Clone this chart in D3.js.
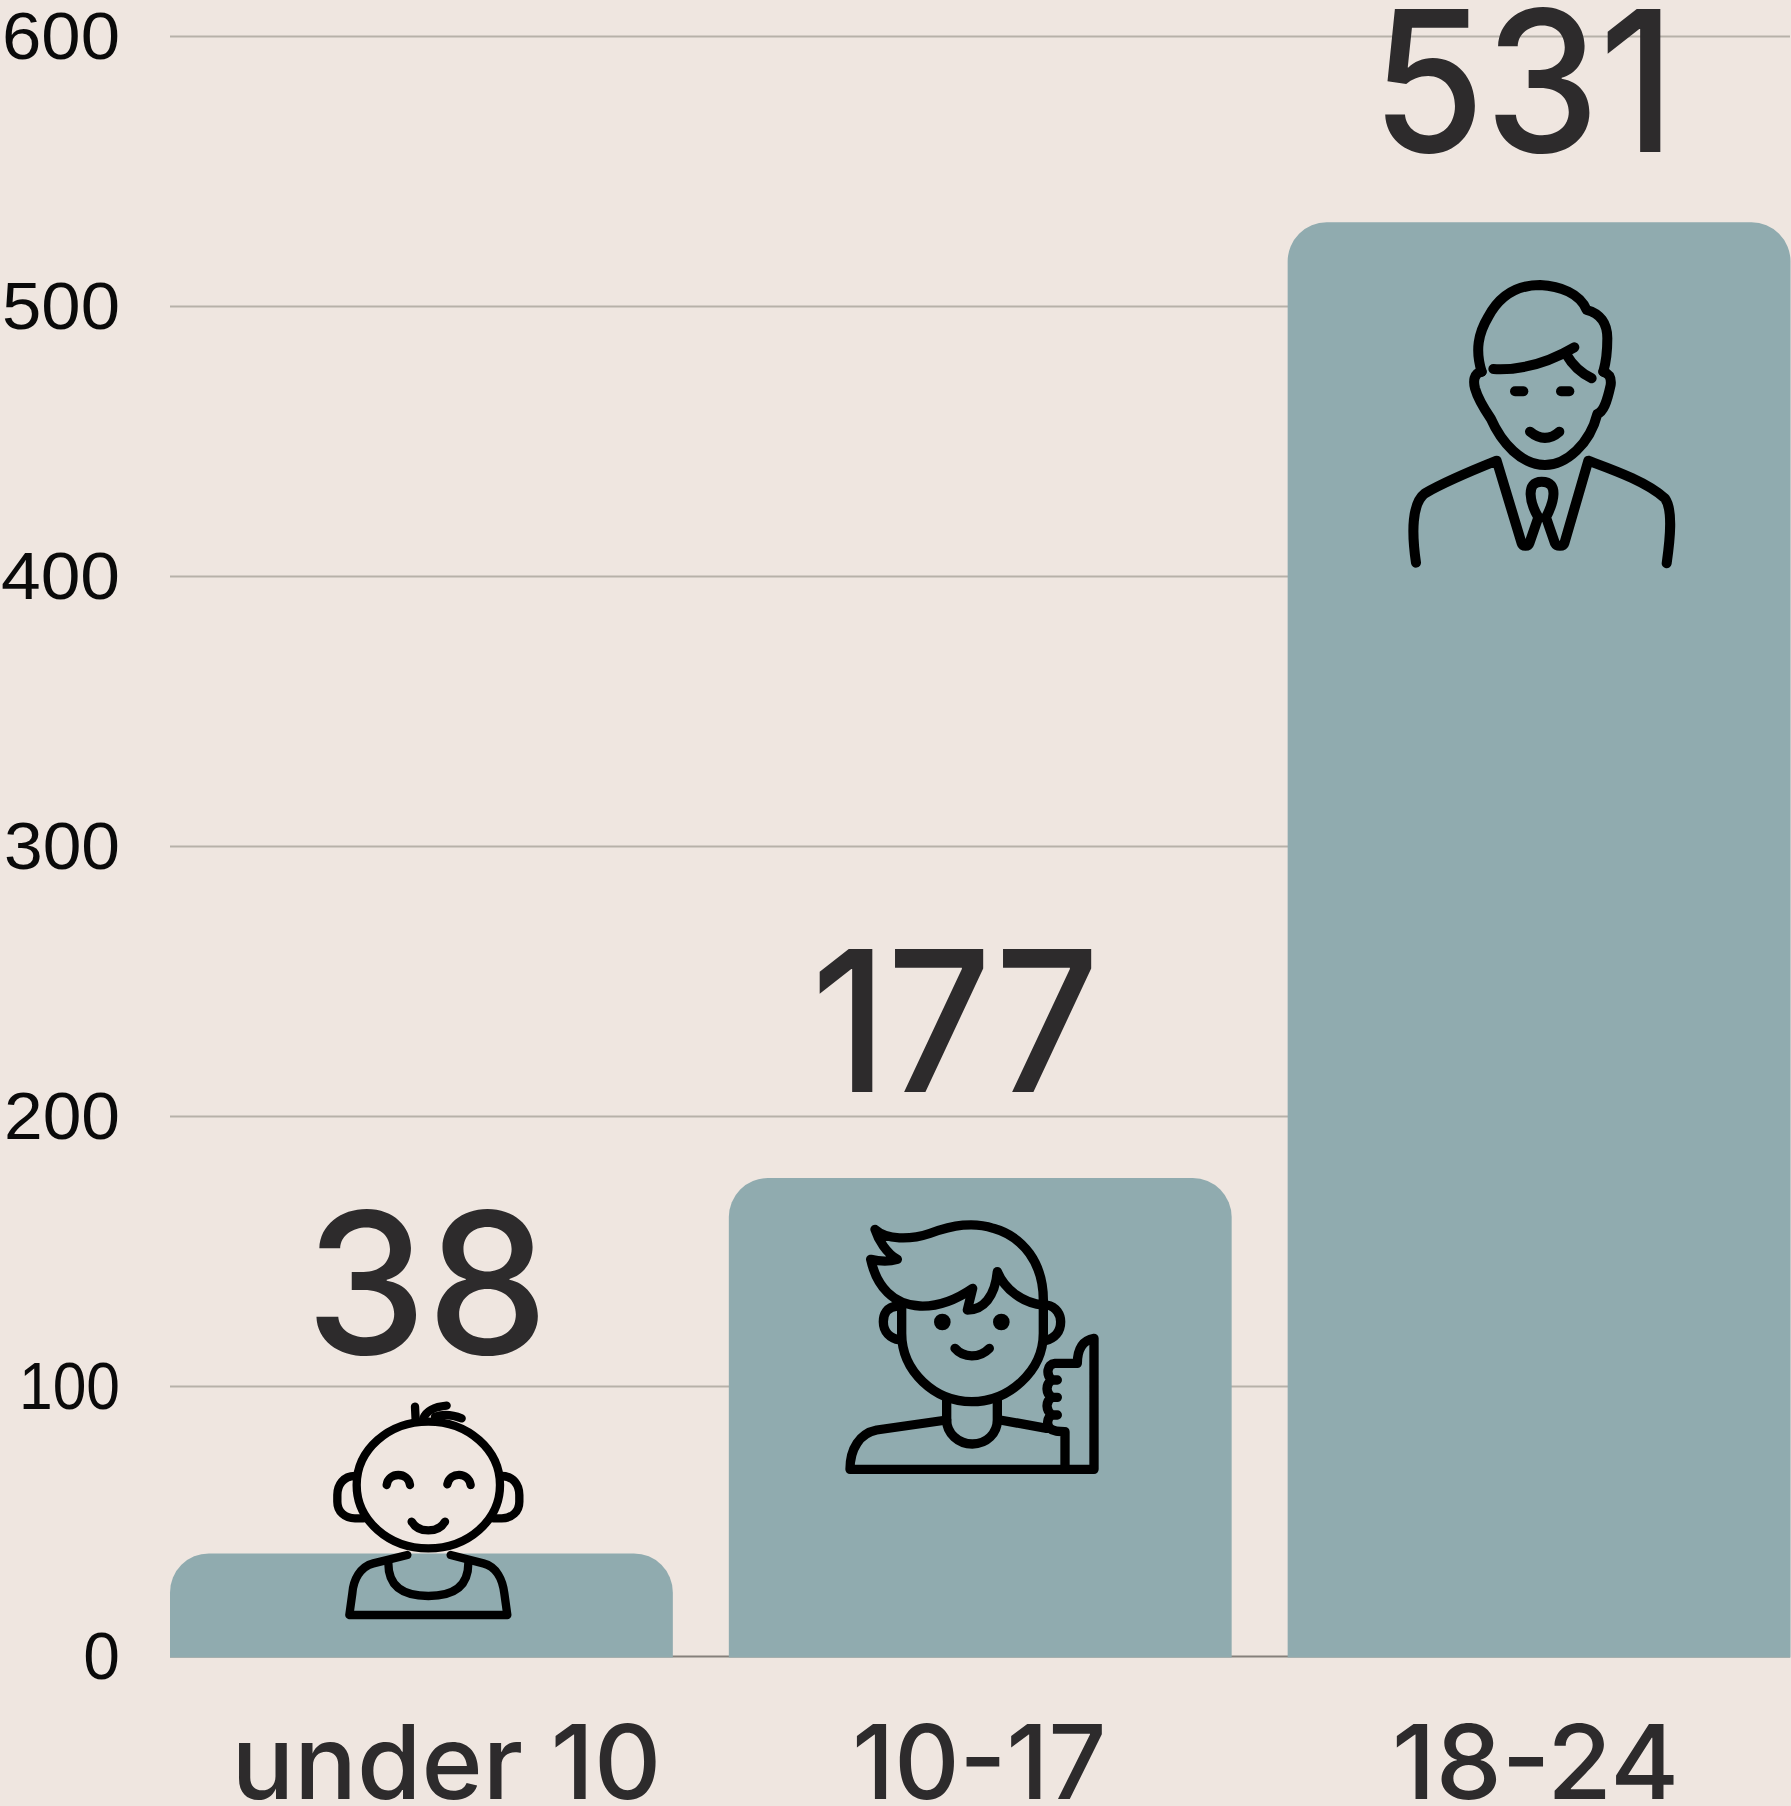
<!DOCTYPE html>
<html><head><meta charset="utf-8">
<script src="https://cdn.jsdelivr.net/npm/d3@7/dist/d3.min.js"></script>
<style>html,body{margin:0;padding:0;background:#efe6e0;overflow:hidden}svg{display:block}</style>
</head><body><div id="chart"></div>
<script>
const categories = ["under 10", "10-17", "18-24"];
const values = [38, 177, 531];
const yTicks = [0, 100, 200, 300, 400, 500, 600];

const W = 1791, H = 1806;
const svg = d3.select("#chart").append("svg").attr("width", W).attr("height", H);
svg.append("rect").attr("width", W).attr("height", H).attr("fill", "#efe6e0");

const y = d3.scaleLinear().domain([0, 600]).range([1656, 36]);
const x = d3.scaleBand().domain(categories).range([170, 1790.5]).paddingInner(0.1002).paddingOuter(0);

const sans = "Inter, 'Noto Sans', sans-serif";

// gridlines + y labels
const yLabelWidth = [36.7, 101, 116, 116, 119, 118, 118];
const yAxis = svg.append("g").attr("transform", "translate(170,0)")
  .call(d3.axisLeft(y).tickValues(yTicks).tickSize(-1620).tickPadding(50));
yAxis.select(".domain").remove();
yAxis.selectAll(".tick line").attr("stroke", d => d === 0 ? "#85807b" : "#b7b1a9").attr("stroke-width", 2);
yAxis.selectAll(".tick text")
  .attr("font-family", "'Liberation Sans', Arial, sans-serif").attr("font-size", 66).attr("fill", "#0a0a0a")
  .attr("dy", "0.34em")
  .attr("textLength", (d, i) => yLabelWidth[i]).attr("lengthAdjust", "spacingAndGlyphs");

// bars
const R = 39;
svg.append("g").selectAll("path").data(categories).join("path")
  .attr("fill", "#90abaf")
  .attr("d", (c, i) => {
    const x0 = x(c), x1 = x0 + x.bandwidth(), b = y(0) + 1.5, t = y(values[i]);
    return `M${x0},${b}V${t + R}A${R},${R} 0 0 1 ${x0 + R},${t}H${x1 - R}A${R},${R} 0 0 1 ${x1},${t + R}V${b}Z`;
  });

// value labels (hand-placed in the source relative to each bar)
const labelShift = [[5.5, -199], [-25, -86], [-15.5, -70]];
const labelWidth = [243, 288, 303];
svg.append("g").selectAll("text").data(values).join("text")
  .attr("x", (v, i) => x(categories[i]) + x.bandwidth() / 2 + labelShift[i][0])
  .attr("y", (v, i) => y(v) + labelShift[i][1])
  .attr("text-anchor", "middle")
  .attr("font-family", sans).attr("font-weight", 500).attr("font-size", 197).attr("fill", "#2d2b2c")
  .attr("textLength", (v, i) => labelWidth[i]).attr("lengthAdjust", "spacingAndGlyphs")
  .text(d => d);

// x labels
const xShift = [25, -1, -3.5];
const xWidth = [430, 254, 287];
const xAxis = svg.append("g").attr("transform", "translate(0,1656)")
  .call(d3.axisBottom(x).tickSize(0).tickPadding(0));
xAxis.select(".domain").remove();
xAxis.selectAll(".tick text")
  .attr("x", (c, i) => xShift[i]).attr("y", 143).attr("dy", 0)
  .attr("font-family", sans).attr("font-weight", 500).attr("font-size", 103).attr("fill", "#2d2b2c")
  .attr("textLength", (c, i) => xWidth[i]).attr("lengthAdjust", "spacingAndGlyphs");

// pictograms, drawn in the 3x coordinate space of their own artwork
const icons = [
  { at: [320, 1390], sw: 25, dots: [], paths: [
    "M325 95C445 95 540 180 540 285C540 390 445 475 325 475C205 475 110 390 110 285C110 180 205 95 325 95Z",
    "M105 258C70 258 52 285 52 315V335C52 365 75 385 105 385H130",
    "M545 258C580 258 598 285 598 315V335C598 365 575 385 545 385H520",
    "M285 50L287 90","M310 85C320 62 345 50 380 47","M345 80C370 72 400 75 425 85",
    "M200 285C205 245 265 245 270 285","M382 283C390 245 445 245 452 285",
    "M275 395C295 430 355 430 375 395",
    "M262 495L160 520C120 530 100 570 97 610L88 675H562L553 610C548 570 530 530 490 520L392 495",
    "M205 520C205 590 250 618 325 618C400 618 445 590 445 520"
  ]},
  { at: [820, 1190], sw: 28, dots: [[367, 396], [544, 396]], paths: [
    "M165 118C200 150 270 150 330 130C400 105 460 95 520 115C610 140 670 220 670 330V345C610 340 555 300 532 245C525 320 490 360 442 360L458 295C400 335 350 350 300 348C220 345 170 290 152 208C180 215 210 215 232 208C200 190 175 150 165 118Z",
    "M245 350V430C245 545 345 635 455 635C565 635 670 545 670 430V345",
    "M232 348C200 350 190 375 190 395C190 425 210 445 240 450",
    "M680 345C710 350 722 375 722 395C722 425 705 445 675 452",
    "M405 475C430 505 480 505 508 475",
    "M380 625V690C380 730 415 762 457 762C500 762 532 730 532 690V625",
    "M380 690L170 720C120 730 90 775 90 838H822V445C790 450 772 475 772 520H705C680 522 678 555 695 570H712M695 570C675 585 678 610 695 622H712M695 622C675 637 678 660 695 675H712M695 675C680 685 680 705 690 715C700 725 715 725 735 725V838",
    "M540 690L680 715"
  ]},
  { at: [1390, 260], sw: 30, dots: [], paths: [
    "M275 335C255 270 265 220 295 170C330 105 385 75 450 75C510 78 570 100 590 150C630 160 652 190 652 235C652 270 650 300 640 335",
    "M275 335C250 340 250 365 255 385C265 420 285 450 302 475C335 550 395 615 465 615C530 615 600 550 622 462C640 455 650 430 662 375C665 350 655 340 640 335",
    "M310 327C400 332 480 305 553 262","M530 285C550 320 575 340 605 355",
    "M375 394H400","M513 394H538",
    "M420 515C450 540 480 540 508 515",
    "M78 908C65 820 65 730 105 700C165 665 250 630 320 602L395 850C398 860 415 860 418 850L445 772C420 730 405 665 455 665C510 665 490 730 468 772L495 850C500 860 520 860 523 850L595 602C670 630 770 665 825 715C850 750 840 840 830 910"
  ]}
];
const ig = svg.append("g").selectAll("g").data(icons).join("g")
  .attr("transform", d => `translate(${d.at[0]},${d.at[1]}) scale(${1/3})`);
ig.selectAll("path").data(d => d.paths.map(p => ({ p, sw: d.sw }))).join("path")
  .attr("d", d => d.p).attr("fill", "none").attr("stroke", "#000")
  .attr("stroke-width", d => d.sw).attr("stroke-linecap", "round").attr("stroke-linejoin", "round");
ig.selectAll("circle").data(d => d.dots).join("circle")
  .attr("cx", d => d[0]).attr("cy", d => d[1]).attr("r", 25).attr("fill", "#000");
</script></body></html>
